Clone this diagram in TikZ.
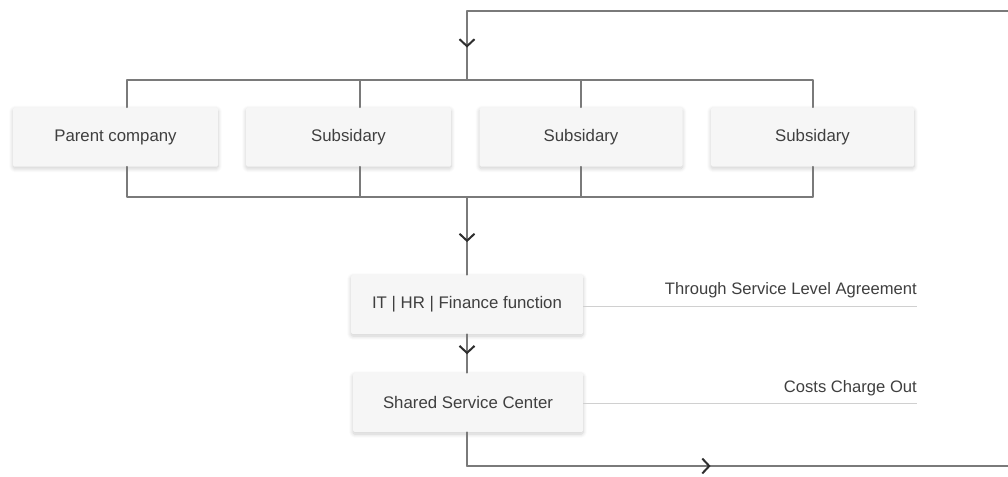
\documentclass[tikz,border=0pt]{standalone}
\usepackage{fontspec}
\setmainfont{Liberation Sans}
\usetikzlibrary{arrows.meta,decorations.markings,shadows.blur}
\definecolor{boxfill}{HTML}{F6F6F6}
\definecolor{wire}{HTML}{7A7A7A}
\definecolor{tip}{HTML}{2E2E2E}
\definecolor{txt}{HTML}{3F3F3F}
\definecolor{rule}{HTML}{D0D0D0}
\tikzset{
  unitbox/.style={rectangle, rounded corners=1.5pt, fill=boxfill, draw=none,
    blur shadow={shadow xshift=0pt, shadow yshift=-2pt, shadow blur steps=8, shadow blur radius=4pt, shadow opacity=20},
    minimum height=59pt, text=txt, font=\fontsize{16.8}{20}\selectfont, inner sep=0pt},
  wireline/.style={draw=wire, line width=1.6pt, line cap=round, line join=round},
  chev/.style={postaction={decorate}, decoration={markings,
    mark=at position #1 with {\arrow[tip, line width=2pt]{Straight Barb[length=7pt, width=15pt]}}}},
  noteline/.style={draw=rule, line width=0.9pt},
  notetext/.style={text=txt, font=\fontsize{16.6}{20}\selectfont, anchor=base east, inner sep=0pt}
}
\begin{document}
\begin{tikzpicture}[x=1pt, y=-1pt]
\useasboundingbox (0,0) rectangle (1008,476);
\clip (0,0) rectangle (1008,476);

% company boxes
\node[unitbox, minimum width=205pt] (parent) at (115.5,137) {Parent company};
\node[unitbox, minimum width=205pt] (sub1) at (348.5,137) {Subsidary};
\node[unitbox, minimum width=203pt] (sub2) at (581,137) {Subsidary};
\node[unitbox, minimum width=203pt] (sub3) at (812.5,137) {Subsidary};

% shared functions
\node[unitbox, minimum width=232pt] (func) at (467,304.5) {IT | HR | Finance function};
\node[unitbox, minimum width=230pt] (ssc) at (468,402.5) {Shared Service Center};

% bus coordinates
\coordinate (tl) at (127,80);
\coordinate (tr) at (813,80);
\coordinate (bl) at (127,197);
\coordinate (br) at (813,197);
\coordinate (trunkTop) at (467,80);
\coordinate (trunkBot) at (467,197);
\coordinate (loopTop) at (467,11);
\coordinate (loopTopR) at (1012,11);
\coordinate (loopBot) at (467,466);
\coordinate (loopBotR) at (1012,466);

% upper and lower bus bars
\draw[wireline] (tl |- parent.north) -- (tl) -- (tr) -- (tr |- sub3.north);
\draw[wireline] (360,80) -- (360,80 |- sub1.north);
\draw[wireline] (581,80) -- (sub2.north);
\draw[wireline] (bl |- parent.south) -- (bl) -- (br) -- (br |- sub3.south);
\draw[wireline] (360,197) -- (360,197 |- sub1.south);
\draw[wireline] (581,197) -- (sub2.south);

% feedback loop into the upper bar
\draw[wireline] (loopTopR) -- (loopTop);
\draw[wireline, chev=0.53] (loopTop) -- (trunkTop);

% flow downwards
\draw[wireline, chev=0.58] (trunkBot) -- (trunkBot |- func.north);
\draw[wireline, chev=0.52] (func.south -| trunkBot) -- (ssc.north -| trunkBot);
\draw[wireline] (ssc.south -| trunkBot) -- (loopBot);
\draw[wireline, chev=0.447] (loopBot) -- (loopBotR);

% annotations
\coordinate (slaEnd) at (917,306);
\coordinate (costEnd) at (917,403);
\draw[noteline] (func.east |- slaEnd) -- (slaEnd);
\node[notetext] (sla) at (917,294) {Through Service Level Agreement};
\draw[noteline] (ssc.east |- costEnd) -- (costEnd);
\node[notetext] (cost) at (917,392) {Costs Charge Out};
\end{tikzpicture}
\end{document}
